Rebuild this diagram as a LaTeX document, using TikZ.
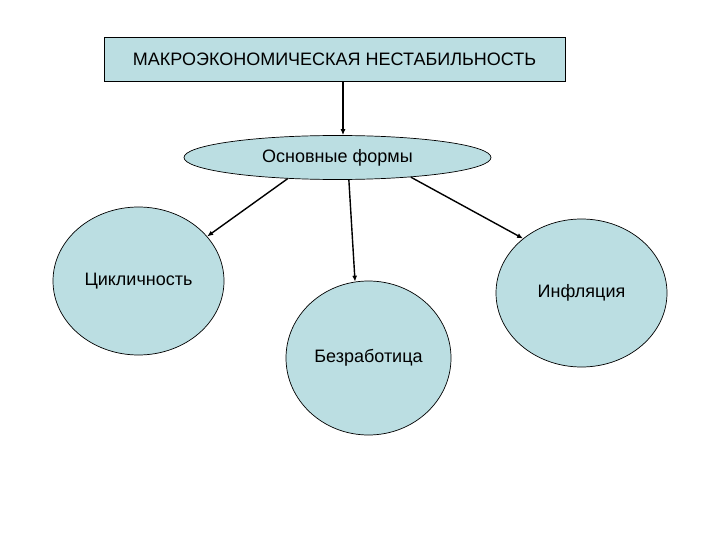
\documentclass[tikz,border=0pt]{standalone}
\usepackage{fontspec}
\setmainfont{Liberation Sans}
\usetikzlibrary{shapes.geometric,arrows.meta}
\definecolor{shapefill}{RGB}{187,222,226}
\begin{document}
\begin{tikzpicture}[x=1pt,y=-1pt,
  box/.style={draw=black,line width=0.8pt,fill=shapefill,minimum width=461pt,minimum height=44pt,inner sep=0pt,font=\fontsize{18}{21}\selectfont},
  oval/.style={ellipse,draw=black,line width=0.7pt,fill=shapefill,inner sep=0pt,font=\fontsize{18}{21}\selectfont},
  conn/.style={line width=1.4pt,-{Latex[length=6pt,width=5pt]}}]
\useasboundingbox (0,0) rectangle (720,540);
\fill[white] (0,0) rectangle (720,540);
\node[box] (top) at (334.5,59.5) {МАКРОЭКОНОМИЧЕСКАЯ НЕСТАБИЛЬНОСТЬ};
\node[oval,minimum width=307pt,minimum height=44pt] (forms) at (337.5,157.5) {Основные формы};
\node[oval,minimum width=171pt,minimum height=148pt] (cyc) at (138.5,281) {Цикличность};
\node[oval,minimum width=165pt,minimum height=154pt] (unemp) at (368.5,358) {Безработица};
\node[oval,minimum width=171pt,minimum height=148pt] (infl) at (581.5,293) {Инфляция};
\draw[conn] ([xshift=8.5pt]top.south) -- ([xshift=8.5pt]top.south |- forms.north);
\draw[conn] (forms.203.7) -- (cyc.33);
\draw[conn] (forms.-63.4) -- (unemp.100.7);
\draw[conn] (forms.-15) -- (infl.137.6);
\end{tikzpicture}
\end{document}
